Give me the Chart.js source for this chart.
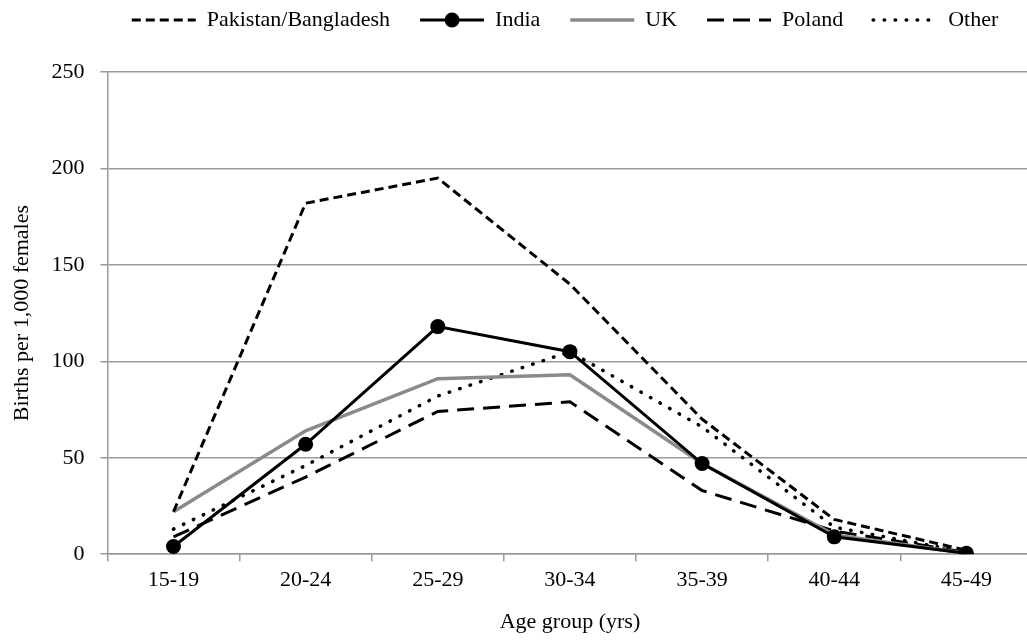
<!DOCTYPE html>
<html>
<head>
<meta charset="utf-8">
<script src="https://cdn.jsdelivr.net/npm/chart.js@4.4.1/dist/chart.umd.min.js"></script>
<style>
  html, body { margin: 0; padding: 0; background: #fff; overflow: hidden; }
  #wrap { width: 1040px; height: 641px; }
</style>
</head>
<body>
<div id="wrap"><canvas id="grafico" width="1040" height="641"></canvas></div>
<script>
// categorias e valores
var faixas = ['15-19', '20-24', '25-29', '30-34', '35-39', '40-44', '45-49'];
var paquistao = [22, 182, 195, 140, 70, 18, 2];
var india = [4, 57, 118, 105, 47, 9, 0.5];
var reinoUnido = [22, 64, 91, 93, 47, 10, 0.5];
var polonia = [9, 40, 74, 79, 33, 12, 1];
var outros = [13, 46, 82, 105, 66, 14, 1];
var ticksY = [0, 50, 100, 150, 200, 250];

var fonte = 'Liberation Serif';
var tamFonte = 22;

// ajustes da legenda: espaco extra, posicao e marcador da India
var ajusteLegenda = {
    id: 'ajusteLegenda',
    beforeUpdate: function (chart) {
        var lg = chart.legend;
        if (lg && !lg._ajustado) {
            var fitOriginal = lg.fit;
            lg.fit = function () {
                fitOriginal.call(this);
                this.height += 10;
            };
            lg._ajustado = true;
        }
    },
    afterLayout: function (chart) {
        var lg = chart.legend;
        if (!lg) return;
        lg.left += 45;
        lg.right += 45;
        lg.top -= 21;
        lg.bottom -= 21;
    },
    afterDraw: function (chart) {
        var caixas = chart.legend.legendHitBoxes;
        if (!caixas || !caixas[1]) return;
        var b = caixas[1];
        var ctx = chart.ctx;
        var larg = chart.options.plugins.legend.labels.pointStyleWidth;
        ctx.save();
        ctx.fillStyle = '#000';
        ctx.beginPath();
        ctx.arc(b.left + larg / 2, b.top + tamFonte / 2, 7.5, 0, Math.PI * 2);
        ctx.fill();
        ctx.restore();
    }
};

var ctx = document.getElementById('grafico').getContext('2d');
new Chart(ctx, {
    type: 'line',
    data: {
        labels: faixas,
        datasets: [{
            label: 'Pakistan/Bangladesh',
            data: paquistao,
            borderColor: '#000',
            borderWidth: 3,
            borderDash: [9, 5],
            pointRadius: 0
        }, {
            label: 'India',
            data: india,
            borderColor: '#000',
            backgroundColor: '#000',
            borderWidth: 3,
            pointRadius: 7.5,
            pointBorderWidth: 0
        }, {
            label: 'UK',
            data: reinoUnido,
            borderColor: '#8a8a8a',
            borderWidth: 3.5,
            pointRadius: 0
        }, {
            label: 'Poland',
            data: polonia,
            borderColor: '#000',
            borderWidth: 3,
            borderDash: [17, 9],
            pointRadius: 0
        }, {
            label: 'Other',
            data: outros,
            borderColor: '#000',
            borderWidth: 3.5,
            borderDash: [0.5, 10.5],
            borderCapStyle: 'round',
            pointRadius: 0
        }]
    },
    options: {
        responsive: false,
        animation: false,
        layout: { padding: { top: 0, right: 0, left: 0, bottom: 6 } },
        plugins: {
            tooltip: { enabled: false },
            legend: {
                position: 'top',
                labels: {
                    usePointStyle: true,
                    pointStyleWidth: 64,
                    color: '#000',
                    padding: 30,
                    font: { family: fonte, size: tamFonte },
                    generateLabels: function (chart) {
                        var itens = Chart.defaults.plugins.legend.labels.generateLabels(chart);
                        itens.forEach(function (it, i) {
                            var ds = chart.data.datasets[i];
                            it.pointStyle = 'line';
                            it.strokeStyle = ds.borderColor;
                            it.fillStyle = ds.borderColor;
                            it.lineWidth = ds.borderWidth;
                            it.lineDash = ds.borderDash || [];
                            it.lineCap = ds.borderCapStyle || 'butt';
                        });
                        return itens;
                    }
                }
            }
        },
        scales: {
            x: {
                offset: true,
                grid: {
                    offset: true,
                    drawOnChartArea: false,
                    tickLength: 7,
                    color: '#999',
                    lineWidth: 1.5
                },
                border: { color: '#999', width: 1.5 },
                ticks: {
                    color: '#000',
                    padding: 6,
                    font: { family: fonte, size: tamFonte }
                },
                title: {
                    display: true,
                    text: 'Age group (yrs)',
                    color: '#000',
                    padding: { top: 9, bottom: 0 },
                    font: { family: fonte, size: tamFonte }
                }
            },
            y: {
                min: 0,
                max: 250,
                afterBuildTicks: function (eixo) {
                    eixo.ticks = ticksY.map(function (v) { return { value: v }; });
                },
                grid: {
                    color: '#999',
                    lineWidth: 1.5,
                    tickLength: 7
                },
                border: { color: '#999', width: 1.5 },
                ticks: {
                    color: '#000',
                    padding: 16,
                    font: { family: fonte, size: tamFonte }
                },
                title: {
                    display: true,
                    text: 'Births per 1,000 females',
                    color: '#000',
                    padding: { top: 9, bottom: 0 },
                    font: { family: fonte, size: tamFonte }
                }
            }
        }
    },
    plugins: [ajusteLegenda]
});
</script>
</body>
</html>
